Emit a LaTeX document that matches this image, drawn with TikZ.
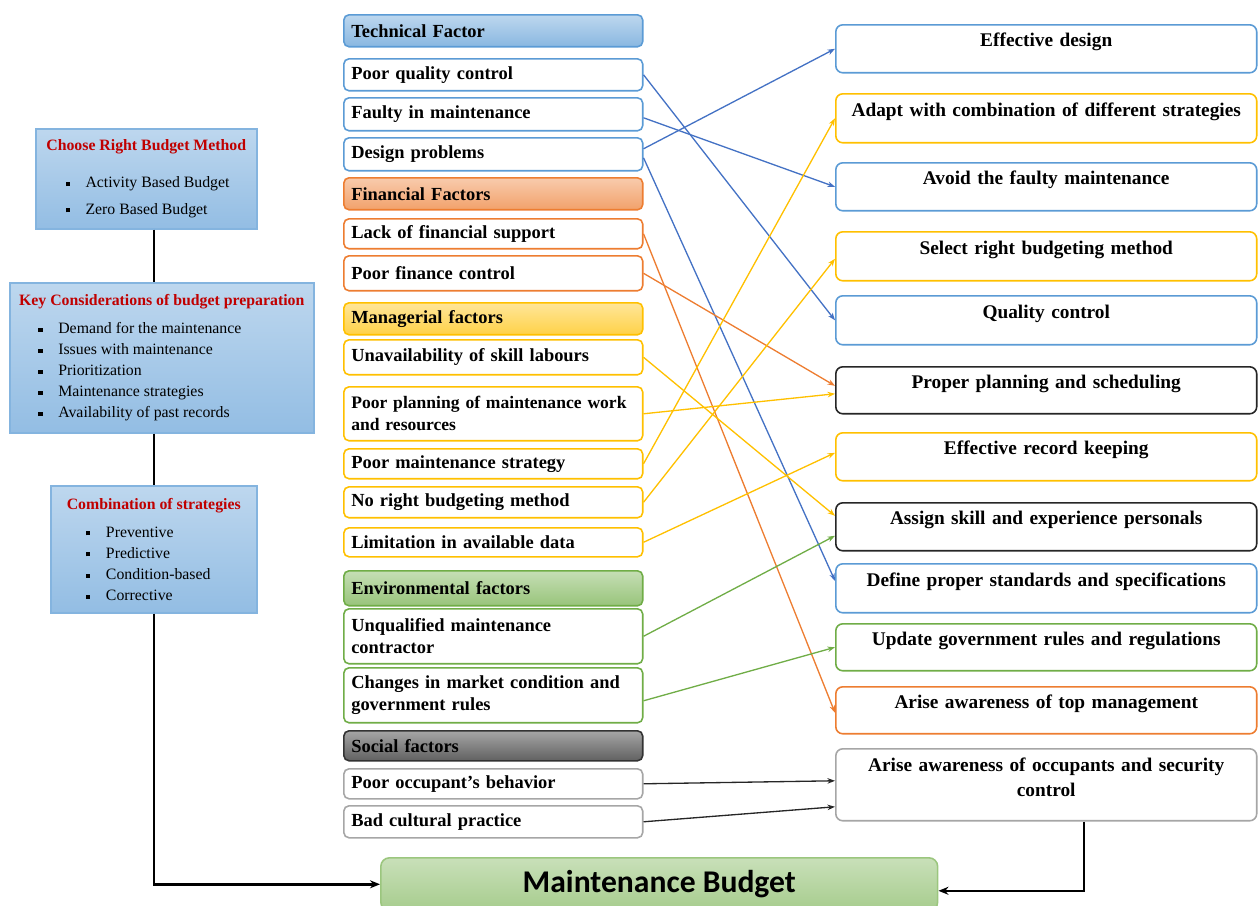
\documentclass[tikz,border=0pt]{standalone}
\usepackage{fontspec}
\setmainfont{Liberation Serif}
\newfontfamily\budgetfont{Carlito}
\usetikzlibrary{arrows.meta}
\definecolor{techBlue}{HTML}{5B9BD5}
\definecolor{techArrow}{HTML}{4472C4}
\definecolor{finOrange}{HTML}{ED7D31}
\definecolor{mgrGold}{HTML}{FFC000}
\definecolor{envGreen}{HTML}{70AD47}
\definecolor{socGray}{HTML}{A6A6A6}
\definecolor{hdrRed}{HTML}{C00000}
\newcommand{\hdr}[1]{\textcolor{hdrRed}{\bfseries #1}}
\newcommand{\itm}{\hspace*{11pt}\rule[0.25ex]{2.3pt}{2.3pt}\hspace{9pt}}

\begin{document}
\begin{tikzpicture}[x=0.02cm, y=-0.02cm,
      every node/.style={anchor=north west},
      factor/.style={draw=#1, rounded corners=3pt, line width=0.9pt, fill=white,
        text width=5.68cm, inner xsep=0.15cm, inner ysep=1pt, align=left,
        font=\fontsize{10.5}{12.5}\selectfont\bfseries, minimum width=5.98cm},
      group/.style={factor=#1, top color=#1!40, bottom color=#1!72},
      outcome/.style={draw=#1, rounded corners=4pt, line width=0.9pt, fill=white,
        text width=8.2cm, inner xsep=0.11cm, align=center, minimum width=8.42cm,
        font=\fontsize{11}{14.5}\selectfont\bfseries, text height=0.26cm, text depth=0.34cm},
      plan/.style={draw=techBlue!75, line width=0.9pt, top color=techBlue!40, bottom color=techBlue!66,
        align=left, font=\fontsize{9}{12}\selectfont, inner sep=4pt},
      budget/.style={draw=envGreen!70, rounded corners=5pt, line width=0.9pt,
        top color=envGreen!38, bottom color=envGreen!62, minimum width=11.14cm, minimum height=1.06cm,
        font=\budgetfont\fontsize{18}{20}\selectfont\bfseries},
      link/.style={-{Stealth[length=1.5mm, width=1.1mm]}, line width=0.75pt},
      spine/.style={line width=1.4pt, black}]
    \useasboundingbox (0,0) rectangle (1258,906);

    \node[plan, minimum width=4.42cm, minimum height=2cm] (crb) at (35,128)
      {\hdr{Choose Right Budget Method}\\[9pt]\itm Activity Based Budget\\[3pt]\itm Zero Based Budget};
    \node[plan, minimum width=6.08cm, minimum height=3cm] (kcb) at (9,282)
      {\hdr{Key Considerations of budget preparation}\\[4pt]\itm Demand for the maintenance\\
       \itm Issues with maintenance\\\itm Prioritization\\\itm Maintenance strategies\\
       \itm Availability of past records};
    \node[plan, minimum width=4.12cm, minimum height=2.54cm] (cos) at (50,485)
      {\hdr{Combination of strategies}\\[4pt]\itm Preventive\\\itm Predictive\\
       \itm Condition-based\\\itm Corrective};

    \node[group=techBlue, minimum height=0.64cm] (tech) at (343,14) {Technical Factor};
    \node[factor=techBlue, minimum height=0.64cm] (pqc) at (343,58) {Poor quality control};
    \node[factor=techBlue, minimum height=0.66cm] (fim) at (343,97) {Faulty in maintenance};
    \node[factor=techBlue, minimum height=0.66cm] (dp) at (343,137) {Design problems};
    \node[group=finOrange, minimum height=0.64cm] (fin) at (343,177) {Financial Factors};
    \node[factor=finOrange, minimum height=0.6cm] (lfs) at (343,218) {Lack of financial support};
    \node[factor=finOrange, minimum height=0.7cm] (pfc) at (343,255) {Poor finance control};
    \node[group=mgrGold, minimum height=0.64cm] (mgr) at (343,302) {Managerial factors};
    \node[factor=mgrGold, minimum height=0.7cm] (usl) at (343,339) {Unavailability of skill labours};
    \node[factor=mgrGold, minimum height=1.08cm, font=\fontsize{10}{12.5}\selectfont\bfseries] (ppm) at (343,386)
      {Poor planning of maintenance work\\and resources};
    \node[factor=mgrGold, minimum height=0.6cm] (pms) at (343,448) {Poor maintenance strategy};
    \node[factor=mgrGold, minimum height=0.62cm] (nrb) at (343,486) {No right budgeting method};
    \node[factor=mgrGold, minimum height=0.58cm] (lad) at (343,527) {Limitation in available data};
    \node[group=envGreen, minimum height=0.7cm] (env) at (343,570) {Environmental factors};
    \node[factor=envGreen, minimum height=1.1cm] (umc) at (343,608) {Unqualified maintenance\\contractor};
    \node[factor=envGreen, minimum height=1.1cm] (cmc) at (343,667) {Changes in market condition and\\government rules};
    \node[factor=black!80, top color=black!35, bottom color=black!62, minimum height=0.6cm] (soc) at (343,730) {Social factors};
    \node[factor=socGray, minimum height=0.6cm] (poc) at (343,768) {Poor occupant’s behavior};
    \node[factor=socGray, minimum height=0.64cm] (bcp) at (343,805) {Bad cultural practice};

    \node[outcome=techBlue, minimum height=0.96cm] (effd) at (835,24) {Effective design};
    \node[outcome=mgrGold, minimum height=0.98cm] (acd) at (835,93) {Adapt with combination of different strategies};
    \node[outcome=techBlue, minimum height=0.96cm] (avf) at (835,162) {Avoid the faulty maintenance};
    \node[outcome=mgrGold, minimum height=0.98cm] (srb) at (835,231) {Select right budgeting method};
    \node[outcome=techBlue, minimum height=0.98cm] (qc) at (835,295) {Quality control};
    \node[outcome=black!85, minimum height=0.94cm] (pps) at (835,366) {Proper planning and scheduling};
    \node[outcome=mgrGold, minimum height=0.96cm] (erk) at (835,432) {Effective record keeping};
    \node[outcome=black!85, minimum height=0.96cm] (ase) at (835,502) {Assign skill and experience personals};
    \node[outcome=techBlue, minimum height=0.98cm] (dps) at (835,563) {Define proper standards and specifications};
    \node[outcome=envGreen, minimum height=0.94cm] (ugr) at (835,623) {Update government rules and regulations};
    \node[outcome=finOrange, minimum height=0.94cm] (atm) at (835,686) {Arise awareness of top management};
    \node[outcome=socGray, minimum height=1.44cm, text depth=0.8cm] (aoc) at (835,748)
      {Arise awareness of occupants and security\\control};

    \node[budget] (mb) at (380,857) {Maintenance Budget};

    \draw[link, techArrow] (pqc.east) -- (qc.west);
    \draw[link, techArrow] ([yshift=-0.07cm]fim.east) -- (avf.west);
    \draw[link, techArrow] ([yshift=0.11cm]dp.east) -- (effd.west);
    \draw[link, techArrow] ([yshift=-0.07cm]dp.east) -- ([yshift=0.15cm]dps.west);
    \draw[link, finOrange] (lfs.east) -- ([yshift=-0.05cm]atm.west);
    \draw[link, finOrange] (pfc.east) -- ([yshift=0.09cm]pps.west);
    \draw[link, mgrGold] (usl.east) -- ([yshift=0.22cm]ase.west);
    \draw[link, mgrGold] (ppm.east) -- ([yshift=-0.07cm]pps.west);
    \draw[link, mgrGold] (pms.east) -- (acd.west);
    \draw[link, mgrGold] (nrb.east) -- ([yshift=-0.05cm]srb.west);
    \draw[link, mgrGold] (lad.east) -- ([yshift=0.08cm]erk.west);
    \draw[link, envGreen] (umc.east) -- ([yshift=-0.18cm]ase.west);
    \draw[link, envGreen] ([yshift=-0.11cm]cmc.east) -- (ugr.west);
    \draw[link, black!85] (poc.east) -- ([yshift=0.08cm]aoc.west);
    \draw[link, black!85] (bcp.east) -- ([yshift=-0.44cm]aoc.west);

    \draw[spine] (crb.south -| cos.north) -- (kcb.north -| cos.north);
    \draw[spine] (kcb.south -| cos.north) -- (cos.north);
    \draw[spine, -{Stealth[length=2mm, width=1.6mm]}] (cos.south) |- (mb.west);
    \draw[spine, -{Stealth[length=2mm, width=1.6mm]}] ([xshift=0.75cm]aoc.south) |- ([yshift=-0.13cm]mb.east);
  \end{tikzpicture}
\end{document}
